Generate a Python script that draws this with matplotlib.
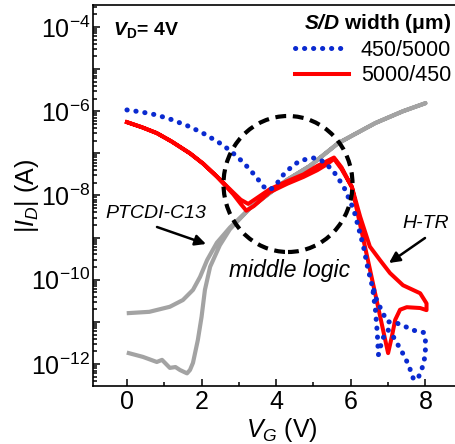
import numpy as np
import matplotlib
matplotlib.use("Agg")
import matplotlib.pyplot as plt
from matplotlib.ticker import FixedLocator, FuncFormatter, NullFormatter
from matplotlib.patches import Ellipse

plt.rcParams['font.family'] = ['Liberation Sans', 'DejaVu Sans']
plt.rcParams['mathtext.fontset'] = 'custom'
plt.rcParams['mathtext.rm'] = 'Liberation Sans'
plt.rcParams['mathtext.it'] = 'Liberation Sans:italic'
plt.rcParams['mathtext.bf'] = 'Liberation Sans:bold'
plt.rcParams['mathtext.sf'] = 'Liberation Sans:bold:italic'

# ---------------- data (log10 of |I_D| in A) ----------------
# PTCDI-C13 reference transistor (forward sweep, then reverse sweep)
gray_fwd_V = [0.05, 0.43, 0.8, 0.94, 1.15, 1.3, 1.42, 1.61, 1.69, 1.77, 1.9, 2.0, 2.09,
              2.23, 2.49, 2.76, 3.3, 3.65, 4.29, 4.9, 5.66, 6.2, 6.66, 7.4, 8.0]
gray_fwd_log = [-11.74, -11.83, -11.95, -11.9, -12.09, -12.07, -12.14, -12.22, -12.14, -11.97,
                -11.43, -10.88, -10.24, -9.69, -9.18, -8.8, -8.3, -8.06, -7.63, -7.3, -6.76,
                -6.5, -6.28, -6.0, -5.81]
gray_rev_V = [8.0, 7.4, 6.66, 6.2, 5.66, 4.9, 4.29, 3.65, 3.3, 2.76, 2.41, 2.15, 1.96, 1.77,
              1.5, 1.15, 0.6, 0.05]
gray_rev_log = [-5.81, -6.0, -6.28, -6.5, -6.76, -7.3, -7.63, -8.06, -8.3, -8.76, -9.12,
                -9.53, -9.93, -10.24, -10.48, -10.64, -10.76, -10.79]

# S/D width 5000/450 (red)
red_fwd_V = [0.0, 0.4, 0.8, 1.2, 1.69, 2.05, 2.41, 2.85, 3.05, 3.2, 3.4, 3.83, 4.3, 4.73,
             5.1, 5.36, 5.55, 5.75, 6.03, 6.5, 7.0, 7.1, 7.19, 7.32, 7.5, 7.86, 8.03]
red_fwd_log = [-6.26, -6.38, -6.52, -6.72, -7.0, -7.25, -7.55, -7.97, -8.2, -8.36, -8.25,
               -7.92, -7.72, -7.56, -7.4, -7.26, -7.13, -7.37, -7.8, -9.7, -11.74, -11.35,
               -10.95, -10.71, -10.65, -10.67, -10.72]
red_rev_V = [8.03, 7.86, 7.4, 7.05, 6.78, 6.51, 6.25, 6.03, 5.75, 5.55, 5.1, 4.73, 4.3,
             3.83, 3.45, 3.25, 3.05, 2.85, 2.41, 2.05, 1.69, 1.2, 0.8, 0.4, 0.0]
red_rev_log = [-10.56, -10.32, -10.13, -9.84, -9.53, -9.21, -8.5, -7.8, -7.33, -7.1, -7.3,
               -7.5, -7.66, -7.85, -8.08, -8.2, -8.1, -7.93, -7.55, -7.25, -7.0, -6.72,
               -6.52, -6.38, -6.26]

# S/D width 450/5000 (blue)
blue_fwd_V = [0.0, 0.4, 0.8, 1.2, 1.69, 2.1, 2.57, 2.85, 3.1, 3.3, 3.5, 3.66, 3.84, 4.05,
              4.2, 4.4, 4.64, 5.0, 5.2, 5.36, 5.54, 5.81, 6.08, 6.34, 6.45, 6.58, 6.66,
              6.71, 6.74, 6.85, 7.0, 7.14, 7.3, 7.46, 7.58, 7.69, 7.82, 7.91, 7.97, 8.0, 8.0]
blue_fwd_log = [-5.97, -6.02, -6.09, -6.2, -6.37, -6.55, -6.8, -7.0, -7.2, -7.39, -7.6,
                -7.79, -7.87, -7.68, -7.5, -7.33, -7.17, -7.11, -7.16, -7.27, -7.43, -7.79,
                -8.34, -9.21, -9.7, -10.17, -10.71, -11.26, -11.78, -11.4, -11.19, -11.35,
                -11.6, -11.85, -12.1, -12.38, -12.3, -12.1, -11.9, -11.66, -11.43]
blue_rev_V = [8.0, 7.95, 7.69, 7.46, 7.24, 6.97, 6.84, 6.7, 6.6]
blue_rev_log = [-11.43, -11.25, -11.2, -11.11, -11.03, -10.99, -10.75, -10.5, -10.2]

legend_labels = ['450/5000', '5000/450']
x_major = [0, 2, 4, 6, 8]
x_minor = [1, 3, 5, 7]
y_decades = list(range(-12, -3))  # major y ticks 1e-12 ... 1e-4

# ---------------- figure ----------------
W, H = 455, 444
fig = plt.figure(figsize=(W / 100, H / 100), dpi=100)
AX_L, AX_R, AX_T, AX_B = 93, 456, 5, 386
ax = fig.add_axes([AX_L / W, (H - AX_B) / H, (AX_R - AX_L) / W, (AX_B - AX_T) / H])


def af(xp, yp):
    """pixel position in the image -> axes fraction"""
    return ((xp - AX_L) / (AX_R - AX_L), (AX_B - yp) / (AX_B - AX_T))


def I(v):
    return 10.0 ** np.asarray(v)


gray = '#a3a3a3'
ax.plot(gray_fwd_V + gray_rev_V, I(gray_fwd_log + gray_rev_log), color=gray, lw=3.0,
        solid_joinstyle='round', zorder=2)
ax.plot(red_fwd_V + red_rev_V, I(red_fwd_log + red_rev_log), color='#ff0000', lw=2.9,
        solid_joinstyle='round', zorder=3, label=legend_labels[1])
ax.plot(blue_fwd_V + blue_rev_V, I(blue_fwd_log + blue_rev_log), color='#0a2ad0', lw=3.6,
        ls=(0, (0.05, 1.75)), dash_capstyle='round', zorder=4, label=legend_labels[0])

ax.set_yscale('log')
ax.set_xlim(-0.91, 8.82)
ax.set_ylim(10 ** -12.52, 10 ** -3.48)

ax.xaxis.set_major_locator(FixedLocator(x_major))
ax.xaxis.set_minor_locator(FixedLocator(x_minor))
ax.yaxis.set_major_locator(FixedLocator([10.0 ** e for e in y_decades]))
y_minor = [m * 10.0 ** e for e in range(-13, -3) for m in range(2, 10)
           if 10 ** -12.52 < m * 10.0 ** e < 10 ** -3.48]
ax.yaxis.set_minor_locator(FixedLocator(y_minor))
ax.yaxis.set_minor_formatter(NullFormatter())


def yfmt(v, pos):
    e = int(round(np.log10(v)))
    if e % 2 == 0:
        return r'$\mathregular{10^{%d}}$' % e
    return ''


ax.yaxis.set_major_formatter(FuncFormatter(yfmt))
ax.tick_params(which='both', direction='in', top=False, right=False, width=1.1)
ax.tick_params(which='major', length=5, labelsize=18, pad=3)
ax.tick_params(which='minor', length=3)
ax.tick_params(axis='y', which='major', pad=2)
for s in ['left', 'bottom', 'top']:
    ax.spines[s].set_linewidth(1.2)
ax.spines['right'].set_visible(False)

ax.set_xlabel(r'$V_G$ (V)', fontsize=18, labelpad=0)
ax.xaxis.set_label_coords(af(282, 0)[0], af(0, 416)[1])
ax.set_ylabel(r'$|I_D|$ (A)', fontsize=18, labelpad=2)
ax.yaxis.set_label_coords(af(41, 0)[0], af(0, 196)[1])

# dashed "middle logic" circle
ell = Ellipse(af(288, 184), 129 / (AX_R - AX_L), 136 / (AX_B - AX_T), transform=ax.transAxes,
              fill=False, lw=3.0, ls=(0, (2.6, 1.6)), color='k', zorder=5)
ax.add_patch(ell)

# annotations
ax.text(*af(113, 35), r'$\mathsf{V}_\mathbf{D}$= 4V', transform=ax.transAxes, fontsize=14,
        fontweight='bold', ha='left', va='baseline')
ax.text(*af(156, 213), 'PTCDI-C13', transform=ax.transAxes, fontsize=14, style='italic',
        ha='center', va='center')
ax.text(*af(290, 271), 'middle logic', transform=ax.transAxes, fontsize=16.5, style='italic',
        ha='center', va='center')
ax.text(*af(426, 223), 'H-TR', transform=ax.transAxes, fontsize=14, style='italic',
        ha='center', va='center')
arrow = dict(arrowstyle='-|>', lw=1.8, color='k', mutation_scale=16, shrinkA=0, shrinkB=0)
ax.annotate('', xy=af(206, 244), xytext=af(157, 227), xycoords='axes fraction',
            textcoords='axes fraction', arrowprops=arrow)
ax.annotate('', xy=af(389, 263), xytext=af(425, 238), xycoords='axes fraction',
            textcoords='axes fraction', arrowprops=arrow)

# legend
h, l = ax.get_legend_handles_labels()
order = [l.index(legend_labels[0]), l.index(legend_labels[1])]
leg = ax.legend([h[i] for i in order], [l[i] for i in order],
                title=r'$\mathsf{S/D}$ width (μm)', loc='upper right',
                bbox_to_anchor=af(451, 12), frameon=False, fontsize=15.5,
                title_fontproperties={'weight': 'bold', 'size': 15},
                handlelength=2.5, handletextpad=0.55, labelspacing=0.22,
                borderpad=0, borderaxespad=0, alignment='right')

fig.savefig('out.png', dpi=100)
